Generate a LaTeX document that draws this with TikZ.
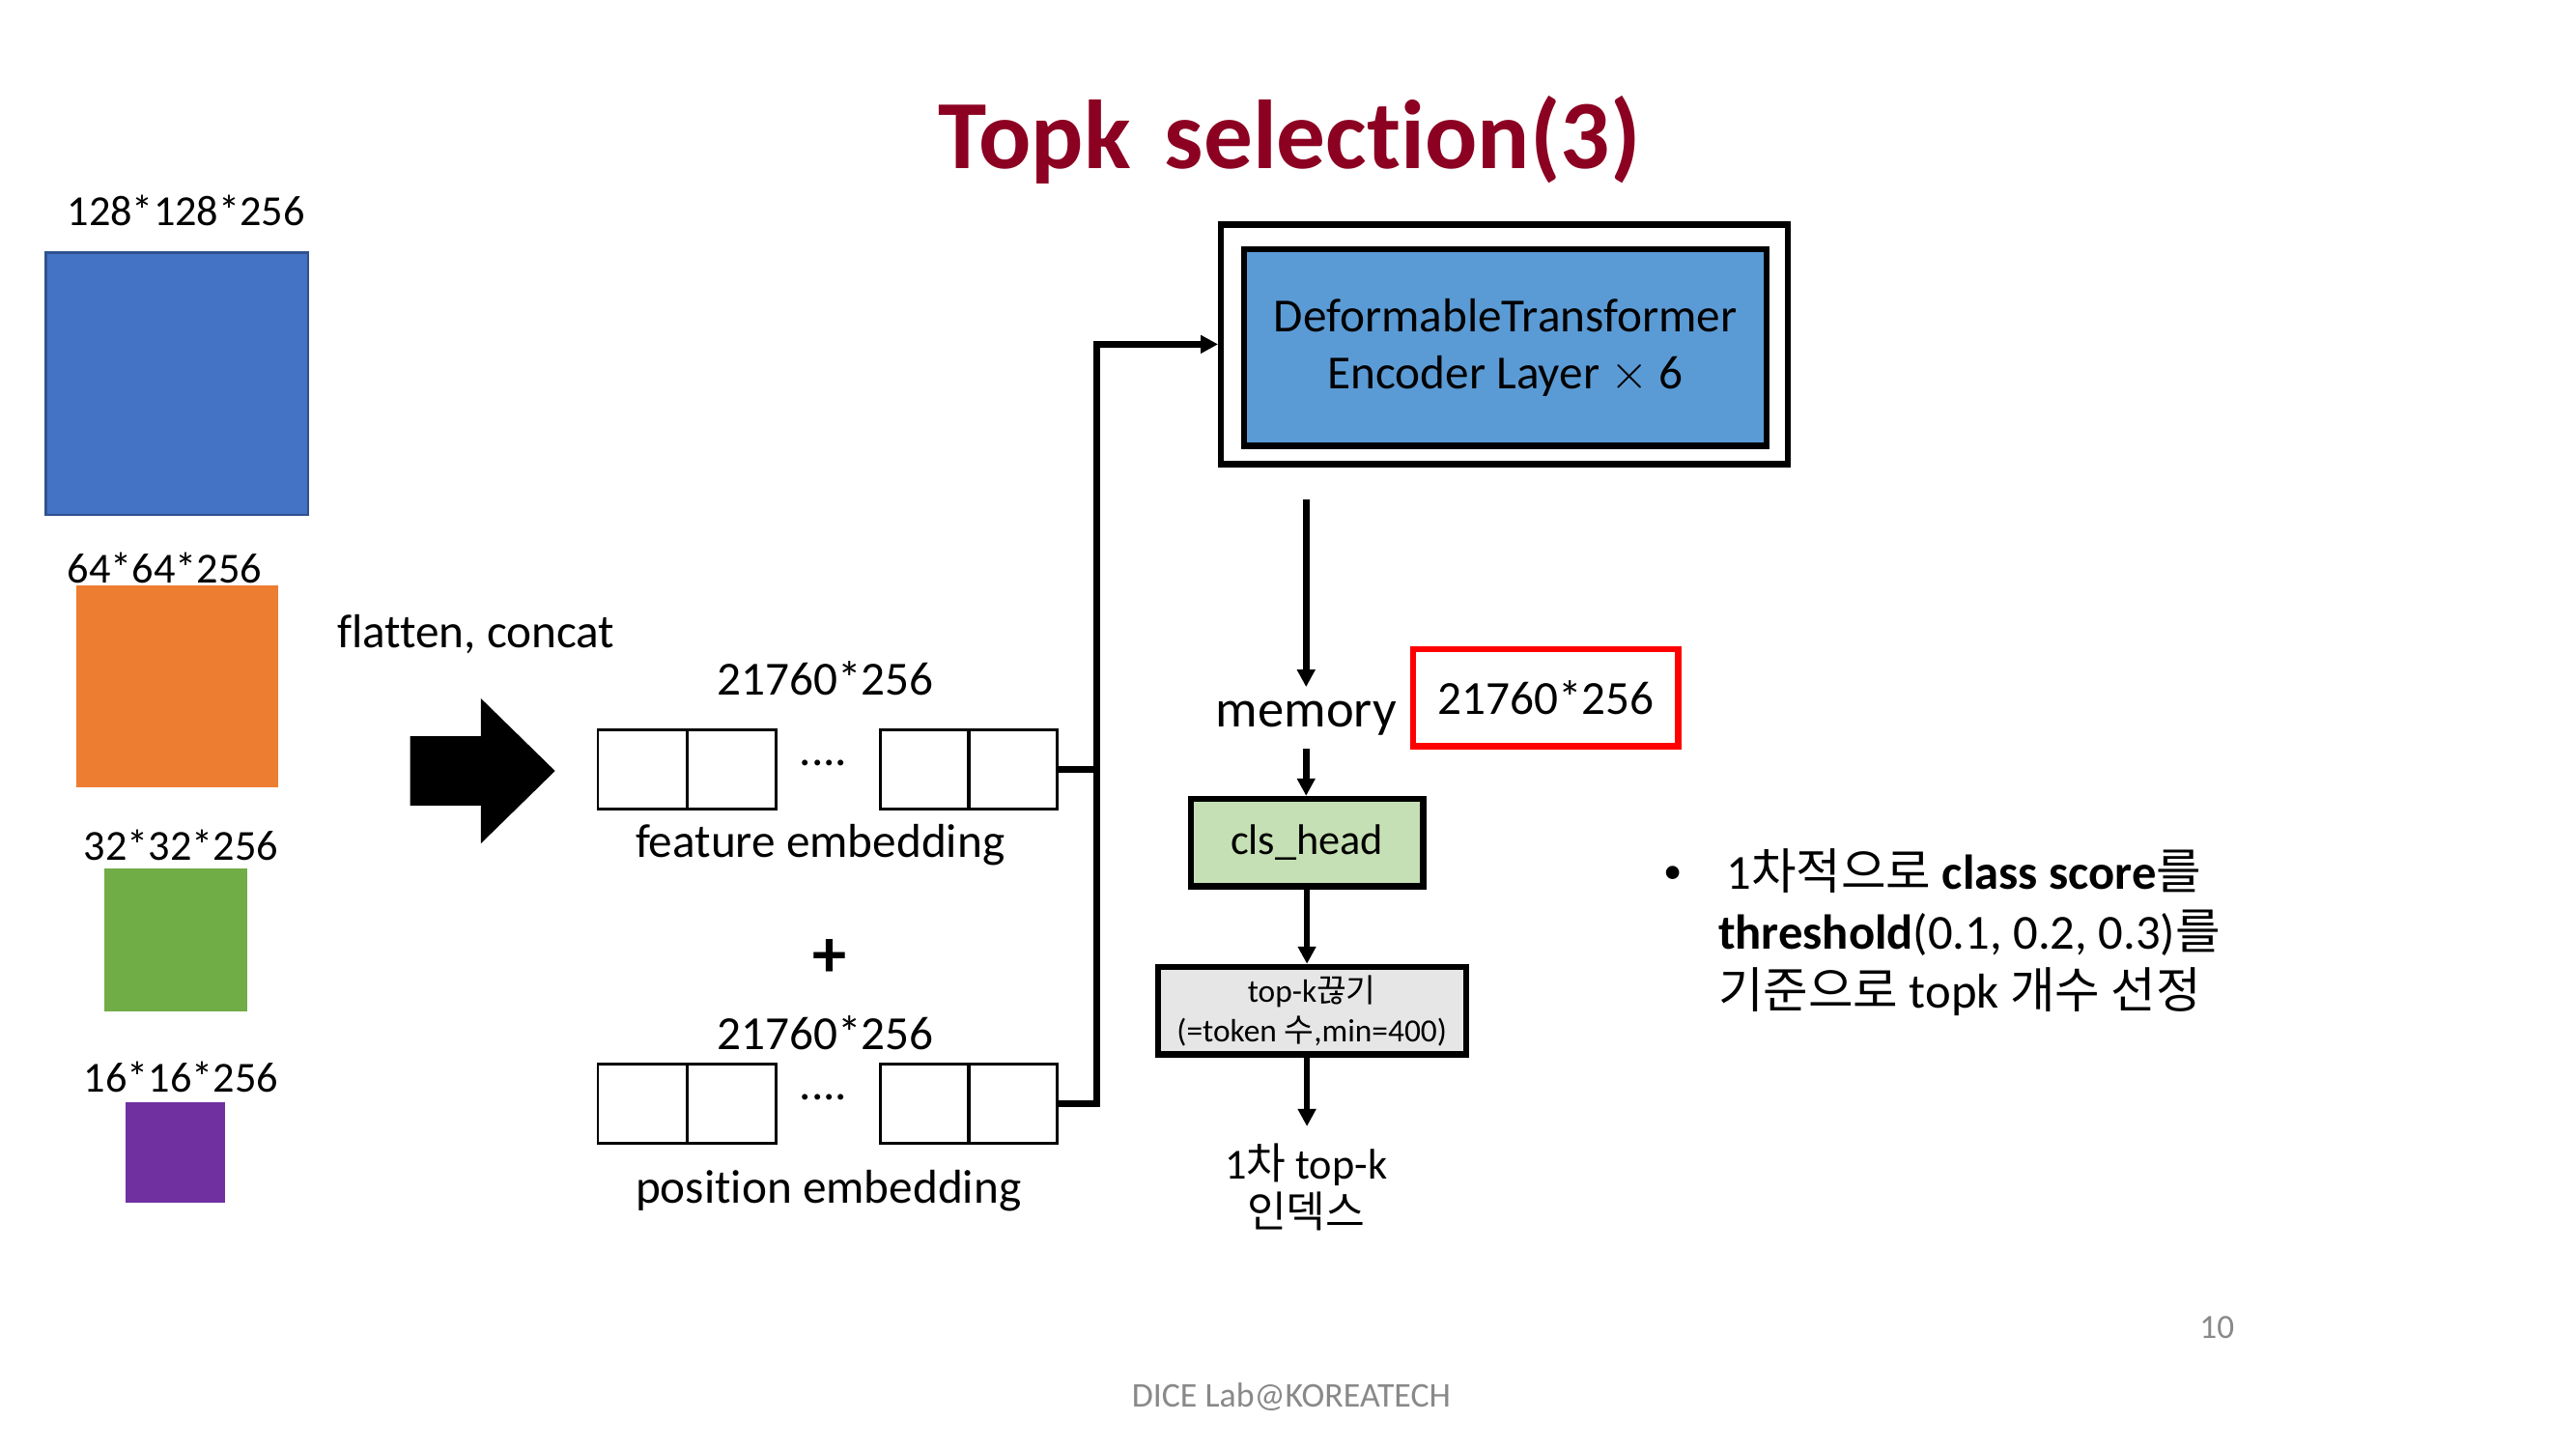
\documentclass[tikz,border=0pt]{standalone}
\usepackage{fontspec}
\setmainfont{Carlito}[Ligatures=CommonOff]
\newfontfamily\kr{Noto Sans CJK KR}
\usepackage{tikz}
\usetikzlibrary{arrows.meta}
\definecolor{titlered}{RGB}{140,0,33}
\definecolor{fblue}{RGB}{68,114,196}
\definecolor{fblueline}{RGB}{47,82,143}
\definecolor{forange}{RGB}{237,125,49}
\definecolor{fgreen}{RGB}{112,173,71}
\definecolor{fpurple}{RGB}{112,48,160}
\definecolor{encblue}{RGB}{91,155,213}
\definecolor{clsgreen}{RGB}{197,224,180}
\definecolor{topkgray}{RGB}{231,230,230}
\definecolor{footgray}{RGB}{137,137,137}

\tikzset{
  conn/.style={line width=1.9pt},
  cell/.style={draw,line width=0.8pt,minimum width=0.921cm,minimum height=0.818cm,inner sep=0pt},
  fmap/.style={inner sep=0pt,line width=0.8pt},
  body/.style={font=\fontsize{14}{17}\selectfont},
  small/.style={font=\fontsize{12.6}{15}\selectfont},
  blockbox/.style={draw,line width=1.8pt,align=center,inner sep=0pt},
}

\begin{document}
\begin{tikzpicture}[x=0.01705cm,y=-0.01705cm,>={Triangle[length=1.8mm,width=1.8mm]}]
      \useasboundingbox[fill=white] (0,0) rectangle (1564,880);
      % title
      \node[font=\fontsize{28.8}{34}\selectfont\bfseries,text=titlered] (title) at (783,85) {Topk\hspace{0.12em} selection(3)};
      % feature maps
      \node[small] (l128) at (113,128) {128*128*256};
      \node[fmap,draw=fblueline,fill=fblue,minimum size=2.711cm] (s128) at (107.5,233) {};
      \node[small] (l64) at (100,345) {64*64*256};
      \node[fmap,draw=forange,fill=forange,minimum size=2.063cm] (s64) at (107.5,416.5) {};
      \node[small] (l32) at (110,513) {32*32*256};
      \node[fmap,draw=fgreen,fill=fgreen,minimum size=1.449cm] (s32) at (106.5,570.5) {};
      \node[small] (l16) at (110,654) {16*16*256};
      \node[fmap,draw=fpurple,fill=fpurple,minimum size=1.006cm] (s16) at (106.5,699.5) {};
      % flatten arrow
      \node[body] (flat) at (289,385) {flatten, concat};
      \fill (249,447) -- (292,447) -- (292,424) -- (337,468) -- (292,512) -- (292,489) -- (249,489) -- cycle;
      % embeddings
      \foreach \n/\x in {1/390,2/444,3/561.5,4/615} {
        \node[cell] (f\n) at (\x,467) {};
        \node[cell] (p\n) at (\x,670) {};
      }
      \node[body] (fdots) at (500,463) {....};
      \node[body] (pdots) at (500,666) {....};
      \node[body] (fsize) at (501,412) {21760*256};
      \node[body] (fname) at (498,513) {feature embedding};
      \node[font=\fontsize{20}{24}\selectfont\bfseries] (plus) at (504,582) {+};
      \node[body] (psize) at (501,627) {21760*256};
      \node[body] (pname) at (503,723) {position embedding};
      % encoder
      \node[draw,line width=1.8pt,minimum width=5.867cm,minimum height=2.478cm] (enc) at (913.5,209) {};
      \node[blockbox,body,fill=encblue,minimum width=5.403cm,minimum height=2.03cm] (encin) at (914,211)
        {DeformableTransformer\\Encoder Layer $\times$ 6};
      \coordinate (bus) at (666,209);
      \draw[conn,->] (f4.east) -| (bus) -- (enc.west);
      \draw[conn] (p4.east) -| (bus);
      % memory and heads
      \coordinate (encout) at (793,303);
      \node[font=\fontsize{15.5}{18}\selectfont,inner xsep=0pt,inner ysep=3.9pt,anchor=base] (mem) at (793,441) {memory};
      \node[draw=red,line width=1.9pt,body,minimum width=2.745cm,minimum height=1.006cm,inner sep=0pt] (msize) at (938.5,423.5) {21760*256};
      \node[blockbox,small,fill=clsgreen,minimum width=2.404cm,minimum height=0.904cm] (cls) at (793.5,511.5) {cls\_head};
      \node[blockbox,fill=topkgray,minimum width=3.188cm,minimum height=0.904cm,font=\fontsize{9.5}{11.6}\selectfont] (topk) at (796.5,613.5)
        {top-k{\kr 끊기}\\(=token {\kr 수},min=400)};
      \node[font=\fontsize{12.6}{14}\selectfont,align=center,anchor=north,inner sep=1pt] (res) at (793,692)
        {1{\kr 차} top-k\\{\kr 인덱스}};
      \draw[conn,->] (encout) -- (mem.north);
      \draw[conn,->] (mem.south) -- (mem.south |- cls.north);
      \draw[conn,->] (cls.south) -- (cls.south |- topk.north);
      \draw[conn,->] (topk.south -| cls.south) -- ([yshift=4pt]res.north -| cls.south);
      % note
      \node[font=\fontsize{11}{13}\selectfont] (bullet) at (1016,531) {•};
      \node[font=\fontsize{14.4}{17.5}\selectfont,align=left,anchor=west] (note) at (1036,566)
        {\,1{\kr 차적으로} \textbf{class score}{\kr 를}\\
         \textbf{threshold}(0.1, 0.2, 0.3){\kr 를}\\
         {\kr 기준으로} topk {\kr 개수 선정}};
      % footer
      \node[font=\fontsize{10}{12}\selectfont,text=footgray] (page) at (1346,806) {10};
      \node[font=\fontsize{10.2}{12}\selectfont,text=footgray] (foot) at (784,848) {DICE Lab@KOREATECH};
\end{tikzpicture}
\end{document}
